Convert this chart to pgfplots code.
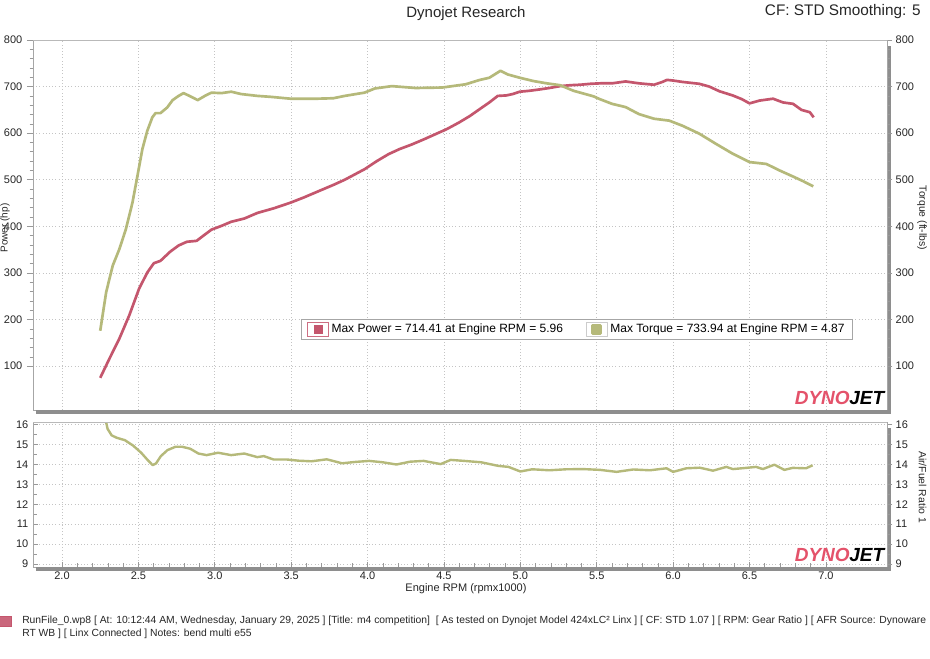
\documentclass[border=0pt]{standalone}
\usepackage{fontspec}
\setmainfont{Liberation Sans}
\usepackage{pgfplots}
\usepackage{pgfplotstable}
\pgfplotsset{compat=1.18}
\definecolor{powc}{HTML}{C4566D}
\definecolor{torc}{HTML}{B5B97A}
\definecolor{barc}{HTML}{8E8E8E}
\definecolor{gridc}{HTML}{C4C4C4}
\definecolor{logored}{HTML}{E4526A}

\pgfplotstableread{
rpm hp
2.250 75
2.310 116
2.375 159
2.440 209
2.504 266
2.558 301
2.601 321
2.644 326
2.709 346
2.763 359
2.817 367
2.881 369
2.925 380
2.978 393
3.043 401
3.108 410
3.194 417
3.280 429
3.388 439
3.496 451
3.582 462
3.668 474
3.776 489
3.850 500
3.982 523
4.060 540
4.137 555
4.210 566
4.291 576
4.370 587
4.445 598
4.520 609
4.599 623
4.670 637
4.731 651
4.797 666
4.852 680
4.907 681
4.950 684
4.996 689
5.060 691
5.128 694
5.190 697
5.260 701
5.330 703
5.392 704
5.460 706
5.524 707
5.600 707
5.689 711
5.776 707
5.875 704
5.930 710
5.960 714.4
6.000 713
6.061 710
6.171 706
6.237 700
6.303 690
6.390 681
6.450 673
6.500 664
6.566 670
6.654 674
6.719 666
6.785 663
6.840 650
6.895 645
6.920 634
}\powtab

\pgfplotstableread{
rpm tq
2.250 176
2.289 259
2.332 316
2.375 351
2.418 394
2.461 451
2.494 509
2.526 566
2.558 605
2.591 634
2.612 643
2.644 643
2.688 655
2.724 671
2.763 680
2.795 686
2.828 681
2.888 671
2.935 680
2.978 687
3.043 686
3.108 689
3.172 684
3.280 680
3.366 678
3.496 674
3.668 674
3.776 675
3.850 680
3.980 687
4.048 696
4.159 701
4.313 697
4.489 698
4.643 705
4.731 714
4.797 719
4.870 733.9
4.918 726
4.996 719
5.084 712
5.172 707
5.260 703
5.348 691
5.480 679
5.513 674
5.600 663
5.689 656
5.776 641
5.875 631
5.974 627
6.061 616
6.171 599
6.281 577
6.390 556
6.500 538
6.610 534
6.697 520
6.785 507
6.851 497
6.917 486
}\tqtab

\pgfplotstableread{
rpm afr
2.289 16.10
2.298 15.78
2.325 15.45
2.358 15.33
2.411 15.21
2.465 14.94
2.518 14.58
2.561 14.21
2.593 13.96
2.615 14.04
2.647 14.41
2.690 14.71
2.743 14.88
2.786 14.88
2.839 14.78
2.893 14.54
2.946 14.46
3.021 14.58
3.107 14.46
3.193 14.54
3.278 14.36
3.321 14.41
3.385 14.24
3.471 14.24
3.550 14.18
3.633 14.15
3.733 14.25
3.833 14.05
3.922 14.12
4.011 14.17
4.100 14.10
4.189 13.99
4.278 14.13
4.367 14.17
4.478 14.01
4.544 14.22
4.633 14.17
4.744 14.10
4.856 13.92
4.922 13.87
5.000 13.64
5.078 13.75
5.189 13.70
5.300 13.75
5.411 13.76
5.522 13.72
5.630 13.62
5.739 13.74
5.848 13.70
5.957 13.80
6.000 13.62
6.087 13.80
6.174 13.83
6.261 13.68
6.348 13.87
6.391 13.76
6.478 13.82
6.543 13.87
6.587 13.76
6.663 13.98
6.728 13.72
6.783 13.82
6.870 13.80
6.913 13.95
}\afrtab

\newcommand{\dynologo}{{\fontsize{14.25}{15}\selectfont\bfseries\itshape\textcolor{logored}{DYNO}\kern-0.3pt\textcolor{black}{JET}}}

\pgfplotsset{
  dynobase/.style={
    scale only axis, width=640.5pt,
    xmin=1.81, xmax=7.40,
    /pgf/number format/assume math mode=true,
    tick label style={font=\fontsize{8.25}{9}\selectfont, text=black!85},
    axis line style={draw=gray!70, line width=0.5pt},
    tick style={draw=gray!80, line width=0.5pt},
    major grid style={draw=gridc, dotted, line width=0.5pt},
    clip=false,
  },
}

\begin{document}
\begin{tikzpicture}
\useasboundingbox (0,0) rectangle (697.5pt,493.5pt);
\fill[white] (0,0) rectangle (697.5pt,493.5pt);

% ---------------- top: power
\begin{axis}[dynobase, at={(24.75pt,186pt)}, anchor=south west, height=277.5pt,
  ymin=6, ymax=800, ytick={100,200,...,800}, minor y tick num=4,
  xtick={2,2.5,...,7}, xmajorticks=false, xmajorgrids=true, ymajorgrids=true,
  tick align=outside, major tick length=4.5pt, minor tick length=2.5pt,
  axis y line*=left, axis x line*=bottom, separate axis lines,
  ]
\addplot[powc, line width=2pt, line join=round] table[x=rpm, y=hp] {\powtab};
\draw[gray!55, line width=0.5pt] (rel axis cs:0,1) -- (rel axis cs:1,1);
\draw[barc, line width=3pt] ([yshift=-1.2pt]rel axis cs:0.003,0) -- ([xshift=1.2pt,yshift=-1.2pt]rel axis cs:1,0) -- ([xshift=1.2pt]rel axis cs:1,0.985);
\node[anchor=south east, inner sep=0pt] at (rel axis cs:0.997,0.014) {\dynologo};
\end{axis}

% ---------------- top: torque (right)
\begin{axis}[dynobase, at={(24.75pt,186pt)}, anchor=south west, height=277.5pt,
  ymin=6, ymax=800, ytick={100,200,...,800}, minor y tick num=4,
  axis x line=none, axis y line*=right,
  tick align=outside, major tick length=4pt, minor tick length=2.5pt,
  yticklabel style={xshift=-1pt},
  legend columns=2,
  legend style={at={(0.637,0.2176)}, anchor=center, draw=gray!70, fill=white,
    font=\fontsize{9}{10}\selectfont, inner xsep=4pt, inner ysep=1.5pt,
    /tikz/every even column/.append style={column sep=15pt}},
  legend cell align=left,
  ]
\addlegendimage{legend image code/.code={\draw[line width=0.6pt,draw=powc!85,fill=white] (0pt,-5.5pt) rectangle (16pt,5.5pt); \fill[powc] (5pt,-3pt) rectangle (11pt,3pt);}}
\addlegendentry{Max Power = 714.41 at Engine RPM = 5.96}
\addplot[torc, line width=2pt, line join=round,
  legend image code/.code={\draw[line width=0.6pt,draw=gray!40,fill=white] (0pt,-5.5pt) rectangle (16pt,5.5pt); \fill[torc] (5pt,-3pt) rectangle (11pt,3pt);}]
  table[x=rpm, y=tq] {\tqtab};
\addlegendentry{Max Torque = 733.94 at Engine RPM = 4.87}
\end{axis}

% ---------------- bottom: AFR
\begin{axis}[dynobase, at={(24.75pt,68.25pt)}, anchor=south west, height=108.75pt,
  ymin=8.85, ymax=16.12, ytick={9,...,16}, minor y tick num=1,
  xtick={2,2.5,...,7}, minor x tick num=4,
  xticklabel style={/pgf/number format/.cd, fixed, fixed zerofill, precision=1, assume math mode=true},
  xmajorgrids=true, ymajorgrids=true,
  tick align=inside, major tick length=4pt, minor tick length=3pt,
  axis y line*=left, axis x line*=bottom, separate axis lines,
  ]
\addplot[torc, line width=1.8pt, line join=round] table[x=rpm, y=afr] {\afrtab};
\draw[gray!55, line width=0.5pt] (rel axis cs:0,1) -- (rel axis cs:1,1);
\draw[barc, line width=3pt] ([yshift=-1.2pt]rel axis cs:0.003,0) -- ([xshift=1.2pt,yshift=-1.2pt]rel axis cs:1,0) -- ([xshift=1.2pt]rel axis cs:1,0.96);
\node[anchor=south east, inner sep=0pt] at (rel axis cs:0.997,0.034) {\dynologo};
\end{axis}

\begin{axis}[dynobase, at={(24.75pt,68.25pt)}, anchor=south west, height=108.75pt,
  ymin=8.85, ymax=16.12, ytick={9,...,16}, minor y tick num=1,
  axis x line=none, axis y line*=right,
  tick align=outside, major tick length=4pt, minor tick length=2.5pt,
  yticklabel style={xshift=-1pt},
  ]
\addplot[draw=none] coordinates {(3,12)};
\end{axis}

% ---------------- texts
\node[font=\fontsize{11.25}{13}\selectfont, text=black!85] at (349.5pt,483pt) {Dynojet Research};
\node[anchor=east, font=\fontsize{11.5}{13}\selectfont, text=black!85] at (694pt,484.5pt) {CF: STD Smoothing: 5};
\node[rotate=90, inner sep=0pt, font=\fontsize{7.5}{8}\selectfont, text=black!85] at (3.8pt,322.5pt) {Power (hp)};
\node[rotate=-90, font=\fontsize{7.8}{9}\selectfont, text=black!85] at (691.5pt,330pt) {Torque (ft-lbs)};
\node[rotate=-90, font=\fontsize{7.8}{9}\selectfont, text=black!85] at (692pt,128.25pt) {Air/Fuel Ratio 1};
\node[font=\fontsize{8.25}{9}\selectfont, text=black!85] at (349.5pt,51.75pt) {Engine RPM (rpmx1000)};

\fill[powc!90, draw=powc] (-2pt,23.5pt) rectangle (8.5pt,31pt);
\node[anchor=west, inner sep=0pt, font=\fontsize{7.75}{9}\selectfont, text=black!85] at (16.5pt,27.75pt)
 {RunFile\_0.wp8 [ At: 10:12:44 AM, Wednesday, January 29, 2025 ] [Title: m4 competition]\ \ [ As tested on Dynojet Model 424xLC² Linx ] [ CF: STD 1.07 ] [ RPM: Gear Ratio ] [ AFR Source: Dynoware};
\node[anchor=west, inner sep=0pt, font=\fontsize{7.75}{9}\selectfont, text=black!85] at (16.5pt,18pt)
 {RT WB ] [ Linx Connected ] Notes: bend multi e55};
\end{tikzpicture}
\end{document}
